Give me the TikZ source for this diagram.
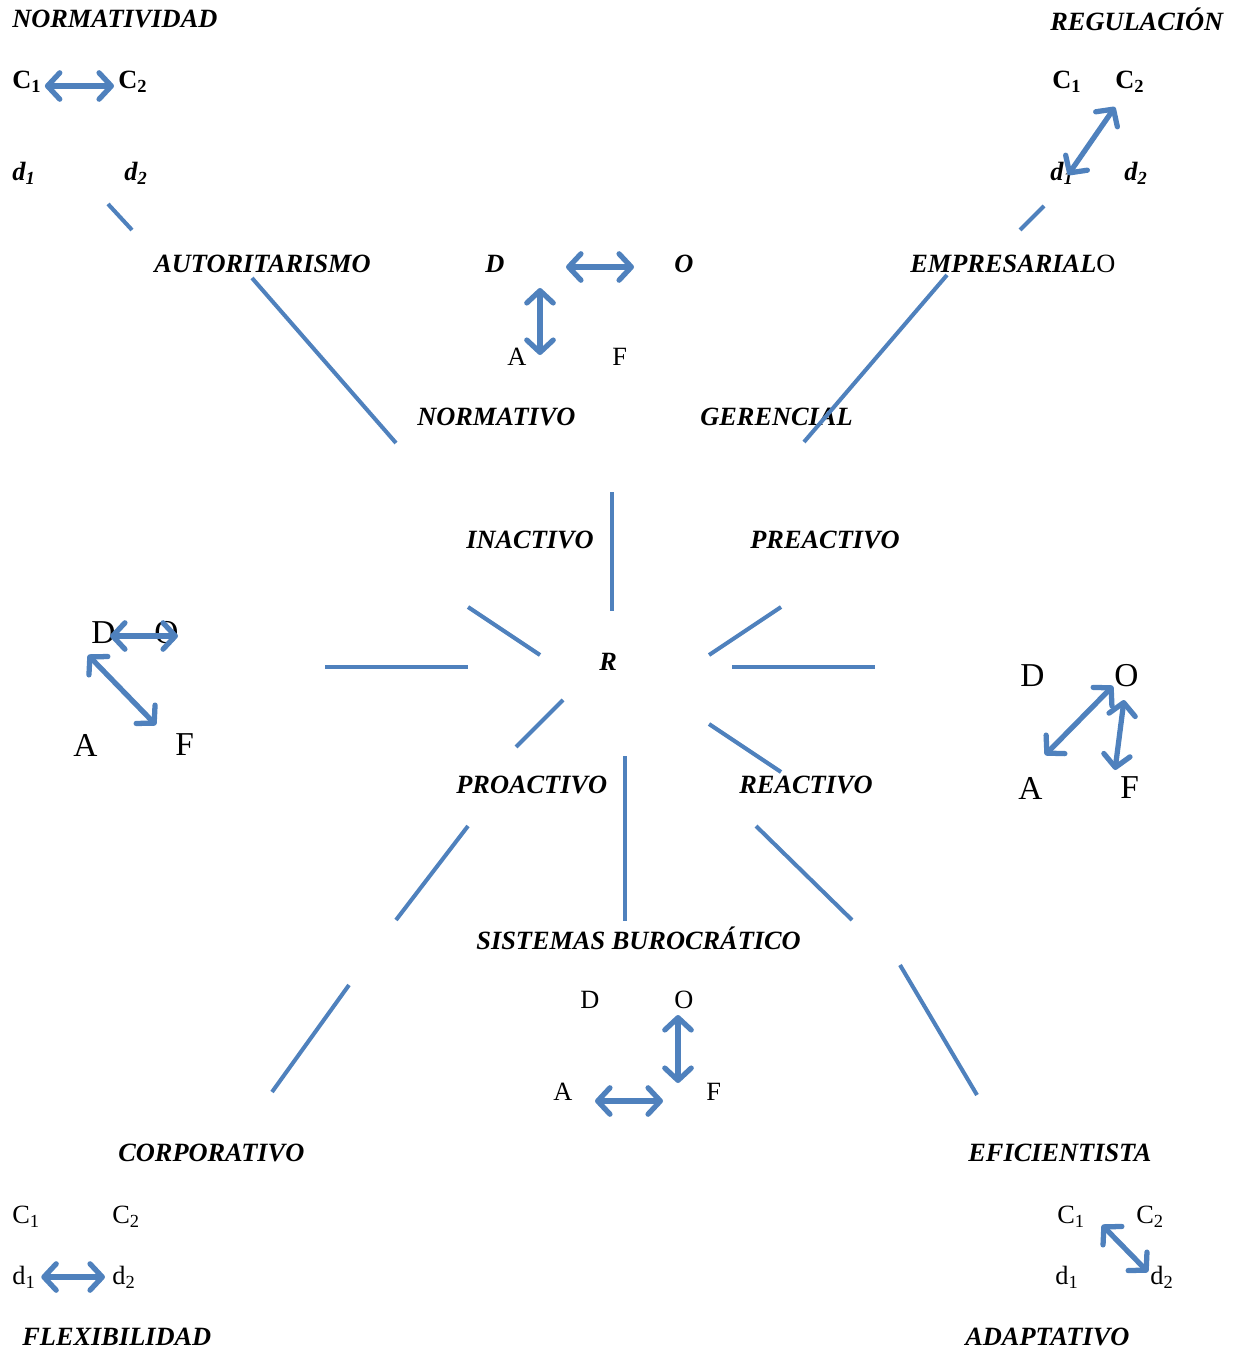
\documentclass[tikz,border=0pt]{standalone}
\usepackage{fontspec}
\setmainfont{Liberation Serif}
\usepackage{xcolor}
\usetikzlibrary{arrows.meta}
\definecolor{OfficeBlue}{HTML}{4F81BD}
\newcommand{\sub}[1]{\textsubscript{#1}}

\tikzset{
  lbl/.style={inner sep=0pt, anchor=west, font=\fontsize{15}{17}\selectfont\bfseries\itshape},
  bup/.style={inner sep=0pt, anchor=west, font=\fontsize{15}{17}\selectfont\bfseries},
  txt/.style={inner sep=0pt, anchor=west, font=\fontsize{15}{17}\selectfont},
  big/.style={inner sep=0pt, anchor=west, font=\fontsize{19}{21}\selectfont},
  ray/.style={draw=OfficeBlue, line width=2.3pt},
  dbl/.style={draw=OfficeBlue, line width=3pt, line cap=round,
    {Straight Barb[length=7pt,width=15pt,round]}-{Straight Barb[length=7pt,width=15pt,round]}}
}

\begin{document}
\begin{tikzpicture}[x=0.02cm,y=-0.02cm]
    \useasboundingbox (0,0) rectangle (1235,1351);

    % top left corner
    \node[lbl] (normatividad) at (12,19) {NORMATIVIDAD};
    \node[bup] (tlC1) at (12,82) {C\sub{1}};
    \node[bup] (tlC2) at (118,82) {C\sub{2}};
    \node[lbl] (tld1) at (12,173) {d\sub{1}};
    \node[lbl] (tld2) at (124,173) {d\sub{2}};
    \draw[dbl] ([shift={(3,4)}]tlC1.east) -- ([shift={(-4,4)}]tlC2.west);

    % top right corner
    \node[lbl] (regulacion) at (1050,19) {REGULACIÓN};
    \node[bup] (trC1) at (1052,82) {C\sub{1}};
    \node[bup] (trC2) at (1115,82) {C\sub{2}};
    \node[lbl] (trd1) at (1050,173) {d\sub{1}};
    \node[lbl] (trd2) at (1124,173) {d\sub{2}};
    \draw[dbl] (1115,107) -- (1068,175);

    % upper labels
    \node[lbl] (autoritarismo) at (154,264) {AUTORITARISMO};
    \node[lbl] (empresarial) at (910,264) {EMPRESARIAL{\normalfont O}};
    \node[lbl] (normativo) at (417,417) {NORMATIVO};
    \node[lbl] (gerencial) at (700,417) {GERENCIAL};

    % top centre square
    \node[lbl] (tD) at (485,264) {D};
    \node[lbl] (tO) at (674,264) {O};
    \node[txt] (tA) at (507,357) {A};
    \node[txt] (tF) at (612,357) {F};
    \draw[dbl] (566,267) -- (634,267);
    \draw[dbl] (540,288) -- (540,355);

    % rays
    \draw[ray] (108,204) -- (132,230);
    \draw[ray] (252,278) -- (396,443);
    \draw[ray] (1020,230) -- (1044,206);
    \draw[ray] (947,275) -- (804,442);
    \draw[ray] (612,492) -- (612,611);
    \draw[ray] (468,607) -- (540,655);
    \draw[ray] (781,607) -- (709,655);
    \draw[ray] (325,667) -- (468,667);
    \draw[ray] (732,667) -- (875,667);
    \draw[ray] (563,700) -- (516,747);
    \draw[ray] (709,724) -- (781,772);
    \draw[ray] (625,756) -- (625,921);
    \draw[ray] (468,826) -- (396,920);
    \draw[ray] (756,826) -- (852,920);
    \draw[ray] (349,985) -- (272,1092);
    \draw[ray] (900,965) -- (977,1095);

    % centre
    \node[lbl] (inactivo) at (466,540) {INACTIVO};
    \node[lbl] (preactivo) at (750,540) {PREACTIVO};
    \node[lbl] (R) at (599,662) {R};
    \node[lbl] (proactivo) at (456,785) {PROACTIVO};
    \node[lbl] (reactivo) at (739,785) {REACTIVO};
    \node[lbl] (sistemas) at (476,938) {SISTEMAS BUROCRÁTICO};

    % left square
    \node[big] (lD) at (91,633) {D};
    \node[big] (lO) at (154,633) {O};
    \node[big] (lA) at (73,745) {A};
    \node[big] (lF) at (175,745) {F};
    \draw[dbl] (110,636) -- (178,636);
    \draw[dbl] (88,655) -- (156,725);

    % right square
    \node[big] (rD) at (1020,676) {D};
    \node[big] (rO) at (1114,676) {O};
    \node[big] (rA) at (1018,788) {A};
    \node[big] (rF) at (1120,788) {F};
    \draw[dbl] (1113,686) -- (1045,755);
    \draw[dbl] (1124,700) -- (1115,770);

    % bottom centre square
    \node[txt] (bD) at (580,1000) {D};
    \node[txt] (bO) at (674,1000) {O};
    \node[txt] (bA) at (553,1092) {A};
    \node[txt] (bF) at (706,1092) {F};
    \draw[dbl] (678,1015) -- (678,1083);
    \draw[dbl] (595,1101) -- (663,1101);

    % bottom left corner
    \node[lbl] (corporativo) at (118,1153) {CORPORATIVO};
    \node[txt] (blC1) at (12,1217) {C\sub{1}};
    \node[txt] (blC2) at (112,1217) {C\sub{2}};
    \node[txt] (bld1) at (12,1277) {d\sub{1}};
    \node[txt] (bld2) at (112,1277) {d\sub{2}};
    \node[lbl] (flexibilidad) at (22,1337) {FLEXIBILIDAD};
    \draw[dbl] ([xshift=3]bld1.east) -- ([xshift=-4]bld2.west);

    % bottom right corner
    \node[lbl] (eficientista) at (968,1153) {EFICIENTISTA};
    \node[txt] (brC1) at (1057,1217) {C\sub{1}};
    \node[txt] (brC2) at (1136,1217) {C\sub{2}};
    \node[txt] (brd1) at (1055,1277) {d\sub{1}};
    \node[txt] (brd2) at (1150,1277) {d\sub{2}};
    \node[lbl] (adaptativo) at (965,1337) {ADAPTATIVO};
    \draw[dbl] (1102,1225) -- (1148,1272);
\end{tikzpicture}
\end{document}
